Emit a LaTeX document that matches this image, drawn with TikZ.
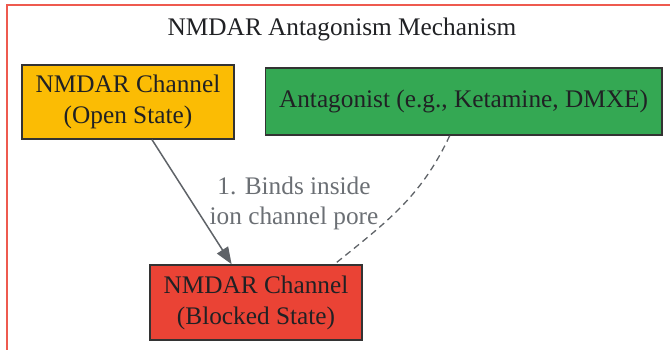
\documentclass[tikz,border=0pt]{standalone}
\usepackage{fontspec}
\setmainfont{Liberation Serif}
\usetikzlibrary{arrows.meta}
\definecolor{gyellow}{HTML}{FBBC04}
\definecolor{ggreen}{HTML}{34A853}
\definecolor{gred}{HTML}{EA4335}
\definecolor{edgec}{HTML}{333333}
\definecolor{txtc}{HTML}{202124}
\definecolor{linec}{HTML}{5F6368}
\definecolor{labc}{HTML}{6B6F74}
\definecolor{framec}{HTML}{EE5A4F}
\tikzset{
  box/.style={draw=edgec, line width=1.5pt, rectangle, align=center, text=txtc,
    font=\fontsize{25.3}{31}\selectfont, inner sep=0pt},
  conn/.style={draw=linec, line width=1.5pt},
  lbl/.style={align=center, text=labc, font=\fontsize{25.3}{30}\selectfont, inner sep=0pt},
}
\begin{document}
\begin{tikzpicture}[x=1pt,y=1pt]
\useasboundingbox (0,0) rectangle (670,349);
\clip (0,0) rectangle (670,349);
\draw[framec, line width=2pt] (7,-5) coordinate (fa) -- (7,344) coordinate (fb) -- (680,344) coordinate (fc);
\node[text=txtc, font=\fontsize{25.3}{30}\selectfont, inner sep=0pt] (title) at (342,320) {NMDAR Antagonism Mechanism};
\node[box, fill=gyellow, minimum width=212pt, minimum height=74pt] (open) at (128,247) {NMDAR Channel\\(Open State)};
\node[box, fill=ggreen, minimum width=396.5pt, minimum height=67pt] (ant) at (463.5,247.5) {Antagonist (e.g., Ketamine, DMXE)};
\node[box, fill=gred, minimum width=212pt, minimum height=75pt] (blocked) at (256,46.5) {NMDAR Channel\\(Blocked State)};
\draw[conn, -{Triangle[length=17pt,width=13pt]}] (open) -- (blocked);
\node[lbl] (label) at (294,146) {1. Binds inside\\ion channel pore};
\draw[conn, line width=1.3pt, dash pattern=on 6.5pt off 4.5pt] (ant.-112) to[out=-115,in=39] (blocked.26);
\end{tikzpicture}
\end{document}
